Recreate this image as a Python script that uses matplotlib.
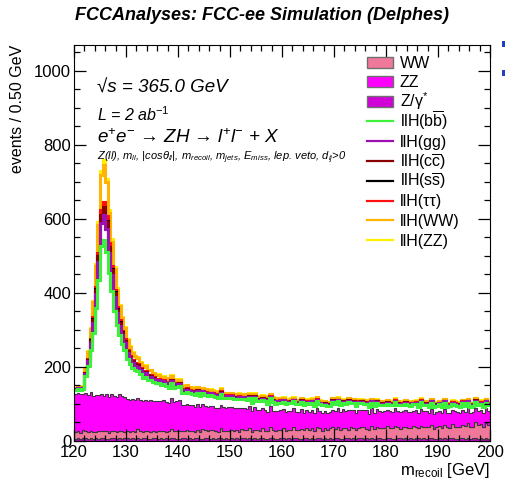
import matplotlib.pyplot as plt
import numpy as np
from matplotlib.patches import Rectangle
from matplotlib.lines import Line2D
from matplotlib.ticker import MultipleLocator

# recoil mass binning: 120-200 GeV, 0.5 GeV per bin
edges = np.arange(120.0, 200.01, 0.5)

# backgrounds (events / bin), stacked from the bottom
zgamma = [6,8,5,7,9,6,7,5,8,6, 7,9,6,5,8,7,6,9,5,7,
          8,6,7,5,9,6,8,7,5,6, 7,8,6,9,5,7,6,8,7,5,
          6,8,7,5,9,6,7,8,5,6, 8,7,6,9,5,7,8,6,7,5,
          7,6,8,5,7,9,6,7,5,8, 6,7,9,5,6,8,7,5,6,8,
          7,5,8,6,7,9,5,6,8,7, 6,8,5,7,9,6,7,5,8,6,
          7,9,6,5,8,7,6,8,5,7, 9,6,7,5,8,6,7,9,5,6,
          8,7,5,6,9,7,6,8,5,7, 6,8,7,5,9,6,7,8,5,6,
          7,5,8,6,7,9,6,5,8,7, 6,8,5,7,9,6,7,5,8,6]
ww_bkg = [18,20,16,22,19,17,21,18,15,20, 19,17,22,16,18,21,17,19,23,18,
          19,17,21,18,24,20,16,19,22,18, 20,17,21,19,23,18,20,25,19,21,
          22,18,20,24,19,21,17,23,20,26, 21,19,24,20,22,18,27,21,20,23,
          24,20,22,19,25,21,23,28,20,22, 24,21,26,22,20,29,23,21,25,22,
          27,23,21,25,30,22,24,26,21,28, 24,27,23,30,25,22,28,24,26,31,
          25,28,24,30,26,23,32,27,25,29, 28,31,26,24,33,27,30,25,29,28,
          32,27,30,35,28,26,33,29,31,27, 34,30,28,36,29,32,30,35,28,31,
          33,30,36,31,29,38,32,34,30,37, 35,40,33,31,42,36,38,34,41,37]
zz_bkg = [103,101,105,97,102,100,104,99,101,98, 100,95,99,97,100,94,96,98,93,95,
          87,89,85,88,84,86,83,85,82,86, 80,83,81,79,84,80,78,82,79,81,
          82,71,69,72,68,70,67,69,66,68, 65,67,64,66,63,65,62,64,61,63,
          60,62,59,64,58,60,57,59,56,62, 55,57,54,56,53,58,52,54,51,53,
          52,50,53,49,51,48,50,55,47,49, 48,50,47,52,46,49,45,47,44,48,
          50,52,49,51,48,55,47,50,46,49, 48,46,50,45,47,44,49,46,45,47,
          44,46,43,48,44,45,42,47,43,44, 42,45,41,46,42,43,40,44,41,42,
          42,40,43,39,41,38,42,40,39,41, 38,40,37,41,39,38,40,37,39,38]

# signal llH channels (events / bin), stacked on top of the backgrounds
sig_bb = [10,11,12,14,45,80,115,170,235,310,400,422,385,335,278,230,195,160,142,125,
          108,96,85,80,72,68,64,62,56,54,52,48,48,44,42,44,38,41,37,40,
          38,34,35,32,33,31,32,30,31,29, 30,28,30,27,28,26,29,26,27,25,
          26,25,24,26,23,24,25,22,23,24, 22,23,21,25,22,21,23,20,22,21,
          20,21,20,22,19,20,21,19,20,18, 21,19,20,18,19,20,18,19,17,20,
          18,18,19,17,18,20,17,18,19,17, 18,18,17,19,16,18,17,18,19,16,
          17,17,18,16,17,18,16,17,18,16, 17,17,16,18,16,17,16,17,18,16,
          17,16,17,16,17,15,17,16,16,17, 15,16,17,15,16,16,15,17,16,15]
sig_gg = [2,2,2,2,7,13,18,27,38,50,64,67,62,54,45,37,31,26,23,20,
          17,15,14,13,12,11,10,10,9,9,8,8,8,7,7,7,6,7,6,6,
          6,6,5,6,5,5,6,5,5,5, 5,5,5,4,5,4,5,4,4,5,
          4,4,4,5,4,4,4,4,4,4, 4,4,4,4,4,3,4,4,3,4,
          4,4,3,4,3,4,3,3,4,3, 4,3,3,4,3,3,3,3,3,4,
          3,3,3,3,3,4,3,3,3,3, 3,3,3,3,3,3,3,3,3,3,
          3,3,3,3,3,3,3,3,3,3, 3,3,3,3,3,3,3,3,3,3,
          3,3,3,3,3,3,3,3,3,3, 3,3,3,3,3,3,3,3,3,3]
sig_cc = [1,1,1,1,2,4,6,9,12,15,20,21,19,17,14,12,10,8,7,6,
          5,5,4,4,4,3,3,3,3,3,3,2,2,2,2,2,2,2,2,2,
          2,2,2,2,2,2,2,2,2,1, 2,2,1,2,2,1,2,1,2,1,
          1,1,2,1,1,1,2,1,1,1, 1,1,1,1,2,1,1,1,1,1,
          1,1,1,1,1,1,1,1,1,1, 1,1,1,1,1,1,1,1,1,1,
          1,1,1,1,1,1,1,1,1,1, 1,1,1,1,1,1,1,1,1,1,
          1,1,1,1,1,1,1,1,1,1, 1,1,1,1,1,1,1,1,1,1,
          1,1,1,1,1,1,1,1,1,1, 1,1,1,1,1,1,1,1,1,1]
sig_ss = [0,0,0,0,0,0,1,1,1,1,2,2,2,1,1,1,1,1,1,0,
          0,0,0,0,0,0,0,0,0,0,0,0,0,0,0,0,0,0,0,0,
          0,0,0,0,0,0,0,0,0,0, 0,0,0,0,0,0,0,0,0,0,
          0,0,0,0,0,0,0,0,0,0, 0,0,0,0,0,0,0,0,0,0,
          0,0,0,0,0,0,0,0,0,0, 0,0,0,0,0,0,0,0,0,0,
          0,0,0,0,0,0,0,0,0,0, 0,0,0,0,0,0,0,0,0,0,
          0,0,0,0,0,0,0,0,0,0, 0,0,0,0,0,0,0,0,0,0,
          0,0,0,0,0,0,0,0,0,0, 0,0,0,0,0,0,0,0,0,0]
sig_tautau = [0,0,1,1,1,2,3,5,7,9,12,13,12,10,8,7,6,5,4,4,
              3,3,3,2,2,2,2,2,2,2,2,1,1,1,1,1,1,1,1,1,
              1,1,1,1,1,1,1,1,1,1, 1,1,1,1,1,1,1,1,1,1,
              1,1,1,1,1,1,1,1,1,1, 1,1,1,1,1,1,1,1,1,1,
              1,1,1,1,1,1,1,1,1,1, 1,1,1,1,1,1,1,1,1,1,
              1,1,1,1,1,1,1,1,1,1, 1,1,1,1,1,1,1,1,1,1,
              1,1,1,1,1,1,1,1,1,1, 1,1,1,1,1,1,1,1,1,1,
              1,1,1,1,1,1,1,1,1,1, 1,1,1,1,1,1,1,1,1,1]
sig_ww = [2,2,3,3,11,19,28,41,56,74,96,101,92,80,67,55,47,38,34,30,
          26,23,20,19,17,16,15,15,13,13,12,12,12,11,10,11,9,10,9,10,
          9,9,9,8,8,8,8,8,8,7, 8,7,8,7,7,7,7,7,7,6,
          7,6,6,7,6,6,6,6,6,6, 6,6,6,6,6,5,6,5,6,5,
          5,5,5,6,5,5,5,5,5,5, 5,5,5,5,5,5,5,5,4,5,
          5,5,5,4,5,5,4,5,4,5, 4,4,4,5,4,4,4,4,5,4,
          4,4,4,4,4,4,4,4,4,4, 4,4,4,4,4,4,4,4,4,4,
          4,4,4,4,4,4,4,4,4,4, 4,4,4,4,4,4,4,4,4,4]
sig_zz = [0,0,0,1,1,2,3,4,6,8,10,11,10,8,7,6,5,4,4,3,
          3,2,2,2,2,2,2,2,1,1,1,1,1,1,1,1,1,1,1,1,
          1,1,1,1,1,1,1,1,1,1, 1,1,1,1,1,1,1,1,1,1,
          1,1,1,1,1,1,1,1,1,1, 1,1,1,1,1,1,1,1,1,1,
          1,1,1,1,1,1,1,1,1,1, 1,1,1,1,1,1,1,1,1,1,
          1,1,1,1,1,1,1,1,1,1, 1,1,1,1,1,1,1,1,1,1,
          1,1,1,1,1,1,1,1,1,1, 1,1,1,1,1,1,1,1,1,1,
          1,1,1,1,1,1,1,1,1,1, 1,1,1,1,1,1,1,1,1,1]

bkg_labels = ['WW', 'ZZ', 'Z/γ$^{*}$']
sig_labels = [r'llH(b$\overline{\mathrm{b}}$)', 'llH(gg)', r'llH(c$\overline{\mathrm{c}}$)',
              r'llH(s$\overline{\mathrm{s}}$)', 'llH(ττ)', 'llH(WW)', 'llH(ZZ)']

plt.rcParams['font.family'] = ['Liberation Sans', 'DejaVu Sans']
plt.rcParams['mathtext.fontset'] = 'custom'
plt.rcParams['mathtext.rm'] = 'Liberation Sans'
plt.rcParams['mathtext.it'] = 'Liberation Sans:italic'
plt.rcParams['mathtext.bf'] = 'Liberation Sans:bold'

W, H = 505, 483
fig = plt.figure(figsize=(W/100, H/100), dpi=100)
ax = fig.add_axes([74/W, 1-441/H, 416/W, 396/H])

# background stack (bottom: Z/gamma*, WW, ZZ)
bkg_cols = {'WW': '#f0789a', 'ZZ': '#ff00ff', 'Z/γ$^{*}$': '#d000d6'}
base = np.zeros(len(edges) - 1)
for vals, lab in [(zgamma, 'Z/γ$^{*}$'), (ww_bkg, 'WW'), (zz_bkg, 'ZZ')]:
    top = base + np.array(vals, dtype=float)
    ax.stairs(top, edges, baseline=base, fill=True, facecolor=bkg_cols[lab],
              edgecolor='#3a3a3a', lw=0.8)
    base = top

# signal stack drawn as outlines
sig_vals = [sig_bb, sig_gg, sig_cc, sig_ss, sig_tautau, sig_ww, sig_zz]
sig_cols = ['#3cf03c', '#9a10b4', '#8a0000', '#000000', '#ff1010', '#ffb400', '#ffee00']
levels = []
for vals in sig_vals:
    base = base + np.array(vals, dtype=float)
    levels.append(base.copy())
for lev, col in reversed(list(zip(levels, sig_cols))):
    ax.stairs(lev, edges, baseline=None, color=col, lw=2.2)

ax.set_xlim(120, 200)
ax.set_ylim(0, 1070)
ax.xaxis.set_major_locator(MultipleLocator(10))
ax.xaxis.set_minor_locator(MultipleLocator(2))
ax.yaxis.set_major_locator(MultipleLocator(200))
ax.yaxis.set_minor_locator(MultipleLocator(50))
ax.tick_params(which='both', direction='in', top=True, right=True, labelsize=12)
ax.tick_params(which='major', length=8.6, width=0.9)
ax.tick_params(which='minor', length=4.3, width=0.9)
ax.tick_params(axis='y', pad=2)
ax.tick_params(axis='x', pad=3)

# legend laid out by hand so rows are evenly spaced
row0, step = 62, 19.8
for i, lab in enumerate(bkg_labels + sig_labels):
    yc = row0 + step * i
    if i < 3:
        fig.patches.append(Rectangle((367/W, 1-(yc+5.5)/H), 26/W, 11/H, transform=fig.transFigure,
                                     facecolor=bkg_cols[lab], edgecolor='#707070', lw=1))
    else:
        fig.lines.append(Line2D([367/W, 393/W], [1-yc/H, 1-yc/H], transform=fig.transFigure,
                                color=sig_cols[i-3], lw=1.6))
    fig.text(400/W, 1-(yc+5.5)/H, lab, fontsize=11.5, va='baseline', ha='left')

fig.text(0.519, 1-15/H, 'FCCAnalyses: FCC-ee Simulation (Delphes)', ha='center', va='center',
         fontsize=13, fontweight='bold', style='italic')
fig.text(97/W, 1-88/H, '√s = 365.0 GeV', fontsize=13.5, style='italic', va='center')
fig.text(97/W, 1-115/H, 'L = 2 ab$^{-1}$', fontsize=11.5, style='italic', va='center')
fig.text(97/W, 1-138/H, 'e$^{+}$e$^{-}$ → ZH → l$^{+}$l$^{-}$ + X', fontsize=13.5,
         style='italic', va='center')
fig.text(97/W, 1-158/H, r'Z(ll), m$_{ll}$, |cosθ$_{ll}$|, m$_{recoil}$, m$_{jets}$, '
         r'E$_{miss}$, lep. veto, d$_{ij}$>0', fontsize=8.0, style='italic', va='center')

fig.text(18/W, 1-45/H, 'events / 0.50 GeV', rotation=90, ha='center', va='top', fontsize=11.5)
fig.text(490/W, 1-471/H, r'm$_{\mathrm{recoil}}$ [GeV]', ha='right', va='center', fontsize=12)

# two small blue marks at the right edge of the picture
for y0 in (41, 70):
    fig.patches.append(Rectangle((502/W, 1-(y0+6)/H), 3/W, 6/H,
                                 transform=fig.transFigure, facecolor='#2040c0', edgecolor='none'))

fig.savefig('out.png', dpi=100)
